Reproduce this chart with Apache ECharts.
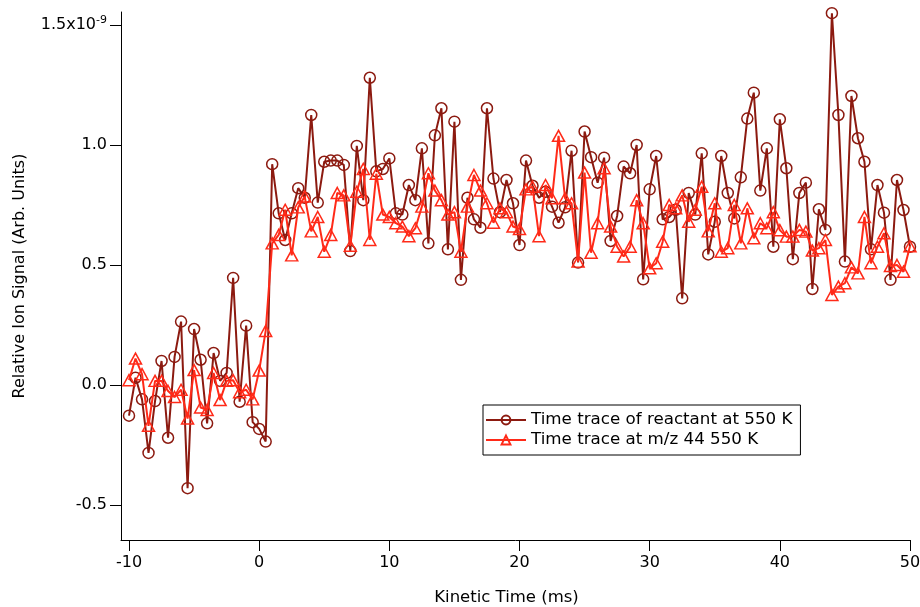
<!DOCTYPE html>
<html>
<head>
<meta charset="utf-8">
<script src="https://cdn.jsdelivr.net/npm/echarts@6/dist/echarts.min.js"></script>
<style>
  html, body { margin: 0; padding: 0; background: #fff; }
  #chart { width: 920px; height: 607px; }
</style>
</head>
<body>
<div id="chart"></div>
<script>
// Kinetic time axis (ms)
var kineticTime = [
  -10, -9.5, -9, -8.5, -8, -7.5, -7, -6.5, -6, -5.5, -5, -4.5, -4, -3.5, -3, -2.5, -2, -1.5, -1, -0.5,
  0, 0.5, 1, 1.5, 2, 2.5, 3, 3.5, 4, 4.5, 5, 5.5, 6, 6.5, 7, 7.5, 8, 8.5, 9, 9.5,
  10, 10.5, 11, 11.5, 12, 12.5, 13, 13.5, 14, 14.5, 15, 15.5, 16, 16.5, 17, 17.5, 18, 18.5, 19, 19.5,
  20, 20.5, 21, 21.5, 22, 22.5, 23, 23.5, 24, 24.5, 25, 25.5, 26, 26.5, 27, 27.5, 28, 28.5, 29, 29.5,
  30, 30.5, 31, 31.5, 32, 32.5, 33, 33.5, 34, 34.5, 35, 35.5, 36, 36.5, 37, 37.5, 38, 38.5, 39, 39.5,
  40, 40.5, 41, 41.5, 42, 42.5, 43, 43.5, 44, 44.5, 45, 45.5, 46, 46.5, 47, 47.5, 48, 48.5, 49, 49.5,
  50
];

// Signal in units of 1e-9 (Arb. Units)
var reactantSignal = [
  -0.128, 0.030, -0.060, -0.283, -0.067, 0.100, -0.220, 0.117, 0.264, -0.430, 0.233, 0.105, -0.160, 0.133, 0.017, 0.050, 0.446, -0.070, 0.247, -0.155,
  -0.183, -0.236, 0.920, 0.715, 0.604, 0.715, 0.820, 0.780, 1.125, 0.760, 0.930, 0.935, 0.935, 0.917, 0.558, 0.996, 0.770, 1.280, 0.890, 0.900,
  0.944, 0.715, 0.710, 0.833, 0.770, 0.986, 0.590, 1.040, 1.153, 0.565, 1.097, 0.438, 0.780, 0.690, 0.655, 1.153, 0.860, 0.720, 0.854, 0.757,
  0.583, 0.935, 0.830, 0.780, 0.805, 0.743, 0.676, 0.740, 0.976, 0.510, 1.056, 0.949, 0.843, 0.947, 0.600, 0.704, 0.910, 0.882, 1.000, 0.440,
  0.815, 0.954, 0.690, 0.700, 0.730, 0.361, 0.800, 0.710, 0.965, 0.544, 0.680, 0.954, 0.800, 0.694, 0.865, 1.110, 1.218, 0.810, 0.986, 0.576,
  1.107, 0.903, 0.524, 0.800, 0.843, 0.400, 0.732, 0.646, 1.549, 1.125, 0.514, 1.204, 1.028, 0.930, 0.565, 0.833, 0.718, 0.438, 0.854, 0.729,
  0.576
];

var mz44Signal = [
  0.020, 0.110, 0.045, -0.170, 0.017, 0.017, -0.025, -0.050, -0.020, -0.140, 0.062, -0.094, -0.104, 0.050, -0.063, 0.017, 0.020, -0.030, -0.020, -0.060,
  0.060, 0.225, 0.590, 0.625, 0.730, 0.540, 0.740, 0.785, 0.640, 0.700, 0.555, 0.625, 0.800, 0.790, 0.580, 0.805, 0.900, 0.604, 0.880, 0.710,
  0.700, 0.674, 0.660, 0.620, 0.653, 0.743, 0.882, 0.810, 0.770, 0.710, 0.720, 0.555, 0.743, 0.875, 0.810, 0.757, 0.676, 0.736, 0.720, 0.660,
  0.650, 0.815, 0.826, 0.620, 0.833, 0.778, 1.038, 0.778, 0.757, 0.514, 0.885, 0.551, 0.674, 0.903, 0.660, 0.576, 0.535, 0.576, 0.770, 0.674,
  0.486, 0.507, 0.597, 0.750, 0.736, 0.790, 0.680, 0.730, 0.826, 0.640, 0.757, 0.555, 0.570, 0.750, 0.590, 0.736, 0.611, 0.674, 0.653, 0.720,
  0.645, 0.618, 0.618, 0.646, 0.639, 0.560, 0.570, 0.604, 0.375, 0.410, 0.424, 0.490, 0.465, 0.700, 0.507, 0.576, 0.632, 0.496, 0.500, 0.472,
  0.578
];

var xTicks = [-10, 0, 10, 20, 30, 40, 50];
var yTicks = [-0.5, 0, 0.5, 1.0, 1.5];
var seriesNames = ['Time trace of reactant at 550 K', 'Time trace at m/z 44 550 K'];

function pairs(xs, ys) {
  return xs.map(function (x, i) { return [x, ys[i]]; });
}

var FONT = 'DejaVu Sans';
var DARK_RED = '#8c1a10';
var RED = '#ff2a18';

var chart = echarts.init(document.getElementById('chart'), null, { renderer: 'canvas' });

chart.setOption({
  animation: false,
  backgroundColor: '#ffffff',
  textStyle: { fontFamily: FONT, color: '#000' },
  grid: { left: 121, right: 10, top: 12, bottom: 67, containLabel: false, outerBoundsMode: 'none' },
  legend: {
    left: 483,
    top: 405,
    orient: 'vertical',
    backgroundColor: '#fff',
    borderColor: '#000',
    borderWidth: 1,
    padding: [6, 8, 6, 2],
    itemGap: 2,
    itemWidth: 40,
    itemHeight: 11,
    textStyle: { fontFamily: FONT, fontSize: 16.7, lineHeight: 18, color: '#000' },
    data: seriesNames
  },
  xAxis: {
    type: 'value',
    min: -10.615,
    max: 50,
    name: 'Kinetic Time (ms)',
    nameLocation: 'middle',
    nameGap: 49,
    nameTextStyle: { fontFamily: FONT, fontSize: 16.5, color: '#000', padding: [0, 18, 0, 0] },
    axisLine: { onZero: false, lineStyle: { color: '#000', width: 1 } },
    axisTick: { show: true, inside: false, length: 11, customValues: xTicks, lineStyle: { color: '#000' } },
    axisLabel: { customValues: xTicks, fontFamily: FONT, fontSize: 16, color: '#000', margin: 15 },
    splitLine: { show: false }
  },
  yAxis: {
    type: 'value',
    min: -0.646,
    max: 1.554,
    name: 'Relative Ion Signal (Arb. Units)',
    nameLocation: 'middle',
    nameGap: 93,
    nameTextStyle: { fontFamily: FONT, fontSize: 16, color: '#000' },
    axisLine: { onZero: false, lineStyle: { color: '#000', width: 1 } },
    axisTick: { show: true, inside: false, length: 11, customValues: yTicks, lineStyle: { color: '#000' } },
    axisLabel: {
      customValues: yTicks,
      fontFamily: FONT,
      fontSize: 16,
      color: '#000',
      margin: 14,
      formatter: function (v) {
        if (Math.abs(v - 1.5) < 1e-9) return '{m|1.5x10}{s|-9}';
        return '{m|' + v.toFixed(1) + '}';
      },
      rich: {
        m: { fontFamily: FONT, fontSize: 16, color: '#000' },
        s: { fontFamily: FONT, fontSize: 11, color: '#000', padding: [0, 0, 10, 0] }
      }
    },
    splitLine: { show: false }
  },
  series: [
    {
      name: seriesNames[0],
      type: 'line',
      data: pairs(kineticTime, reactantSignal),
      symbol: 'circle',
      symbolSize: 11,
      showAllSymbol: true,
      lineStyle: { color: DARK_RED, width: 2 },
      itemStyle: { color: 'rgba(255,255,255,0)', borderColor: DARK_RED, borderWidth: 1.5 },
      emphasis: { disabled: true },
      z: 2
    },
    {
      name: seriesNames[1],
      type: 'line',
      data: pairs(kineticTime, mz44Signal),
      symbol: 'triangle',
      symbolSize: [12, 11],
      showAllSymbol: true,
      lineStyle: { color: RED, width: 2 },
      itemStyle: { color: 'rgba(255,255,255,0)', borderColor: RED, borderWidth: 1.5 },
      emphasis: { disabled: true },
      z: 3
    }
  ]
});
</script>
</body>
</html>
